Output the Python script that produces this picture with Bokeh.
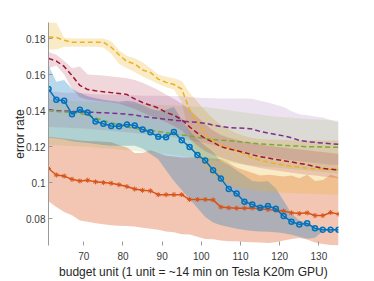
from bokeh.plotting import figure
from bokeh.models import FixedTicker, CustomJSTickFormatter, Range1d
from bokeh.embed import file_html
from bokeh.resources import INLINE

budget = [61, 63, 65, 67, 69, 71, 73, 75, 77, 79, 81, 83, 85, 87, 89, 91, 93, 95, 97, 99,
          101, 103, 105, 107, 109, 111, 113, 115, 117, 119, 121, 123, 125, 127, 129, 131, 133, 135]

blue_mean = [.152, .146, .1455, .138, .1405, .139, .134, .1327, .1315, .1313, .1323, .1318, .1295, .128, .1255, .1252, .1282, .1236, .1199, .1154,
             .1124, .107, .1023, .0966, .094, .0895, .088, .0861, .0871, .0856, .0815, .0784, .0769, .0775, .0747, .0739, .0739, .0739]
blue_hi = [.165, .156, .157, .152, .150, .148, .147, .146, .1455, .145, .1455, .145, .143, .141, .140, .1405, .142, .135, .129, .124,
           .1205, .117, .112, .110, .107, .104, .101, .1005, .1008, .097, .090, .083, .079, .078, .0755, .0745, .0745, .0745]
blue_lo = [.125, .1245, .124, .123, .1225, .122, .1215, .121, .1205, .1205, .1205, .1205, .119, .116, .113, .107, .101, .096, .091, .086,
           .081, .078, .0765, .0755, .0745, .0738, .0733, .073, .0728, .0725, .072, .0712, .070, .069, .0695, .0733, .0733, .0733]

orange_mean = [.1079, .1043, .1037, .1019, .101, .1014, .1005, .1001, .0997, .0989, .0979, .0965, .0958, .0955, .0934, .0934, .0934, .0934, .0907, .0907,
               .0907, .0905, .0865, .0861, .0859, .0859, .086, .0856, .0851, .0847, .0843, .0833, .0829, .0833, .0818, .0818, .0835, .0826]
orange_hi = [.1255, .125, .1245, .124, .1235, .1232, .123, .1228, .1225, .121, .1195, .1165, .1165, .118, .1165, .115, .1145, .114, .114, .114,
             .1138, .1135, .113, .111, .1085, .107, .1055, .104, .1045, .104, .1035, .104, .1025, .1045, .101, .1015, .1045, .103]
orange_lo = [.0898, .0865, .0838, .082, .079, .0784, .0775, .077, .0765, .0762, .076, .0757, .075, .0745, .074, .073, .0725, .0715, .0713, .070,
             .0688, .0686, .068, .0676, .0675, .0672, .067, .0668, .0666, .067, .068, .0688, .0693, .0685, .0668, .066, .0655, .0652]

yellow_mean = [.1808, .1806, .179, .178, .178, .178, .178, .178, .1752, .171, .1672, .166, .1625, .1612, .1575, .1557, .1545, .152, .1405, .1335,
               .1268, .1232, .121, .1194, .1178, .116, .1137, .1125, .1115, .1105, .1098, .1092, .1086, .1081, .1078, .1075, .1074, .1073]
yellow_hi = [.1889, .1889, .1805, .180, .180, .180, .180, .180, .1785, .1735, .1705, .169, .1668, .1635, .160, .1588, .158, .1565, .150, .145,
             .140, .1355, .132, .1295, .1275, .126, .1248, .1243, .124, .1238, .1237, .1236, .1236, .1235, .1235, .1235, .1235, .1235]
yellow_lo = [.1739, .1739, .1755, .1755, .1755, .1755, .1755, .175, .1715, .166, .1635, .1615, .159, .157, .1548, .153, .1518, .145, .125, .115,
             .108, .104, .101, .0995, .098, .097, .096, .0955, .095, .095, .0945, .0945, .094, .094, .0938, .0936, .0935, .0935]

purple_mean = [.1405, .140, .1398, .1396, .1394, .1392, .139, .1388, .1386, .1384, .138, .1376, .1368, .1362, .1357, .1352, .1347, .1343, .1338, .1335,
               .133, .132, .1312, .1306, .1304, .1303, .1298, .1285, .1276, .1268, .126, .125, .1235, .1228, .1224, .122, .1216, .1213]
purple_hi = [.1505, .1505, .150, .150, .1498, .1495, .149, .149, .1488, .1488, .1485, .1485, .1483, .1483, .1482, .1481, .1481, .148, .1476, .1472,
             .147, .1469, .1468, .1468, .1468, .1468, .1466, .1455, .1445, .1433, .142, .1397, .138, .1374, .1368, .1362, .1348, .1336]
purple_lo = [.131, .1308, .1306, .1304, .1302, .130, .1296, .1292, .1288, .1284, .128, .1276, .1272, .1268, .1264, .126, .1252, .1244, .1236, .1228,
             .122, .121, .120, .119, .118, .117, .1162, .1154, .1146, .1138, .113, .1125, .112, .1115, .111, .1105, .110, .110]

green_mean = [.140, .1395, .1393, .139, .1385, .1375, .136, .1345, .1333, .1322, .131, .1302, .1296, .1292, .1285, .1278, .127, .1265, .126, .1252,
              .1245, .124, .1236, .1233, .123, .1225, .122, .1215, .1213, .121, .1207, .1205, .1203, .120, .120, .1198, .1197, .1197]
green_hi = [.146, .1458, .1456, .1454, .1452, .145, .1448, .1446, .1444, .1442, .144, .1438, .1436, .1434, .1432, .1430, .1428, .1426, .1424, .1422,
            .142, .1414, .1408, .1402, .1396, .139, .1384, .1378, .1372, .1368, .1364, .136, .1357, .1354, .1351, .1349, .1347, .1345]
green_lo = [.121, .1208, .1206, .1204, .1202, .120, .1196, .1192, .1188, .1184, .118, .1176, .1172, .1168, .1164, .116, .1154, .1148, .1142, .1136,
            .113, .1124, .1118, .1112, .1106, .110, .1096, .1092, .1088, .1084, .108, .1076, .1072, .1068, .1064, .106, .1055, .105]

red_mean = [.169, .1675, .1645, .1595, .154, .1517, .151, .1505, .150, .1495, .149, .1465, .1445, .143, .1415, .139, .1375, .135, .131, .1275,
            .1245, .1225, .120, .1188, .1178, .1168, .1155, .1145, .1137, .113, .1122, .1115, .1108, .110, .109, .108, .1075, .1072]
red_hi = [.1725, .171, .1675, .1635, .1645, .160, .1598, .1595, .159, .1585, .158, .157, .1555, .1535, .1515, .149, .1465, .144, .1405, .1365,
          .1325, .129, .1265, .125, .1238, .1228, .122, .1212, .1205, .120, .1195, .119, .1185, .118, .1175, .117, .1165, .116]
red_lo = [.1635, .165, .160, .152, .1475, .146, .1455, .145, .1445, .144, .1425, .141, .139, .137, .1355, .1335, .1315, .129, .1245, .1205,
          .1175, .1155, .114, .1125, .1112, .1102, .1092, .1082, .1075, .1068, .1062, .1056, .105, .1045, .104, .1035, .103, .1025]

x_ticks = [70, 80, 90, 100, 110, 120, 130]
y_ticks = [0.08, 0.1, 0.12, 0.14, 0.16, 0.18]

C_BLUE = "#0072BD"
C_ORANGE = "#D95319"
C_YELLOW = "#EDB120"
C_PURPLE = "#7E2F8E"
C_GREEN = "#77AC30"
C_RED = "#A2142F"
FONT = "Liberation Sans"

p = figure(width=372, height=281, output_backend="svg", toolbar_location=None,
           x_range=Range1d(61, 135), y_range=Range1d(0.0652, 0.1889),
           min_border_left=48, min_border_right=34, min_border_top=22, min_border_bottom=32)

# shaded bands
p.varea(x=budget, y1=orange_lo, y2=orange_hi, fill_color=C_ORANGE, fill_alpha=0.33)
p.varea(x=budget, y1=blue_lo, y2=blue_hi, fill_color=C_BLUE, fill_alpha=0.28)
p.varea(x=budget, y1=yellow_lo, y2=yellow_hi, fill_color=C_YELLOW, fill_alpha=0.25)
p.varea(x=budget, y1=purple_lo, y2=purple_hi, fill_color=C_PURPLE, fill_alpha=0.14)
p.varea(x=budget, y1=green_lo, y2=green_hi, fill_color=C_GREEN, fill_alpha=0.14)
p.varea(x=budget, y1=red_lo, y2=red_hi, fill_color=C_RED, fill_alpha=0.17)

# dashed mean lines
dash = "5 3"
p.line(budget, yellow_mean, line_color=C_YELLOW, line_width=1.5, line_dash=dash)
p.line(budget, purple_mean, line_color=C_PURPLE, line_width=1.5, line_dash=dash)
p.line(budget, green_mean, line_color=C_GREEN, line_width=1.5, line_dash=dash)
p.line(budget, red_mean, line_color=C_RED, line_width=1.5, line_dash=dash)

# orange with star markers
p.line(budget, orange_mean, line_color=C_ORANGE, line_width=1.5)
p.scatter(budget, orange_mean, marker="asterisk", size=5, line_color=C_ORANGE, line_width=1)

# blue with circle markers
p.line(budget, blue_mean, line_color=C_BLUE, line_width=1.5)
p.scatter(budget, blue_mean, marker="circle", size=5, line_color=C_BLUE, line_width=1.5, fill_color=None)

# axes styling (MATLAB-like)
p.xgrid.visible = False
p.ygrid.visible = False
p.outline_line_color = None

p.xaxis.ticker = FixedTicker(ticks=x_ticks)
p.yaxis.ticker = FixedTicker(ticks=y_ticks)
p.yaxis.formatter = CustomJSTickFormatter(code="return String(Number(tick.toFixed(2)));")

for ax in (p.xaxis[0], p.yaxis[0]):
    ax.major_tick_in = 4
    ax.major_tick_out = 0
    ax.minor_tick_line_color = None
    ax.major_tick_line_color = "#9a9a9a"
    ax.major_label_text_font = FONT
    ax.major_label_text_font_size = "10px"
    ax.major_label_text_color = "#3a3a3a"
    ax.axis_label_text_font = FONT
    ax.axis_label_text_font_size = "12px"
    ax.axis_label_text_font_style = "normal"
    ax.axis_label_text_color = "#262626"

p.xaxis.axis_line_color = None
p.yaxis.axis_line_color = "#9a9a9a"
p.xaxis.major_label_standoff = 6
p.yaxis.major_label_standoff = 3
p.xaxis.axis_label_standoff = 2
p.yaxis.axis_label_standoff = -4
p.xaxis.axis_label = "budget unit (1 unit = ~14 min on Tesla K20m GPU)"
p.yaxis.axis_label = "error rate"

open("out.html", "w").write(file_html(p, INLINE))
